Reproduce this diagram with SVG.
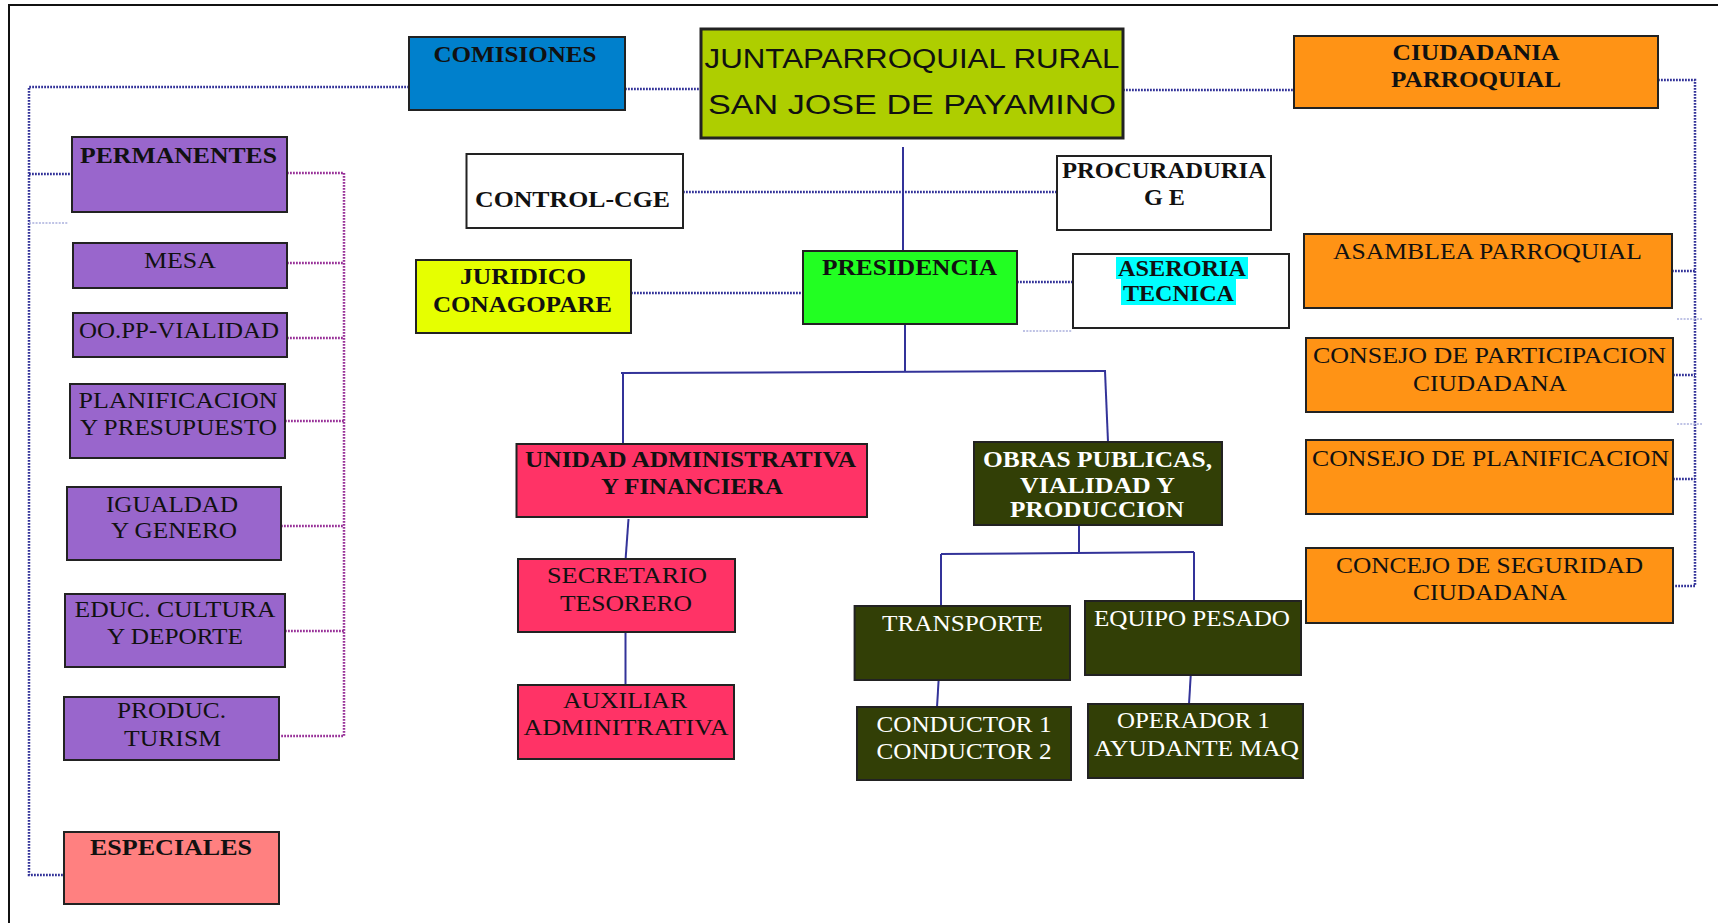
<svg xmlns="http://www.w3.org/2000/svg" width="1718" height="923" viewBox="0 0 1718 923">
<style>
.b{stroke:#222;stroke-width:2}
.blue{fill:#0080CC}.jun{fill:#AECE00}.ora{fill:#FF9315}.pur{fill:#9966CC}.wht{fill:#fff}
.yel{fill:#E6FF00}.grn{fill:#22FF22}.pnk{fill:#FF3366}.olv{fill:#323F06}.sal{fill:#FF8080}
text{font-family:"Liberation Serif","Times New Roman",serif;font-size:23px;fill:#111;text-anchor:middle}
.bd{font-weight:bold}
.wt{fill:#fff}
.sans{font-family:"Liberation Sans",Arial,sans-serif;font-size:27px}
.dn{fill:none;stroke:#333399;stroke-width:2.5;stroke-dasharray:1.8 1.2}
.dp{fill:none;stroke:#993399;stroke-width:2.5;stroke-dasharray:1.8 1.2}
.df{fill:none;stroke:#AAB0DD;stroke-width:1.5;stroke-dasharray:2 1.3}
.sl{fill:none;stroke:#333399;stroke-width:2}
</style>
<rect x="0" y="0" width="1718" height="923" fill="#fff"/>
<path d="M9,923 V5 H1718" fill="none" stroke="#111" stroke-width="2"/>
<g id="connectors">
<path class="dn" d="M409,87 H29 V875 H64"/>
<path class="dn" d="M29,174 H72"/>
<path class="df" d="M29,223 H68"/>
<path class="dn" d="M625,89 H701"/>
<path class="dn" d="M1123,90 H1294"/>
<path class="dn" d="M1658,80 H1695 V586 H1673"/>
<path class="dn" d="M1672,271 H1695 M1673,375 H1695 M1673,479 H1695"/>
<path class="df" d="M1677,319 H1702 M1677,424 H1702"/>
<path class="dn" d="M683,192 H1057"/>
<path class="dn" d="M631,293 H803"/>
<path class="dn" d="M1017,282 H1073"/>
<path class="df" d="M1023,331 H1072"/>
<path class="dp" d="M287,173 H344 V736 H279"/>
<path class="dp" d="M287,263 H344 M287,338 H344 M285,421 H344 M281,526 H344 M285,631 H344"/>
<path class="sl" d="M903,147 V251"/>
<path class="sl" d="M905,324 V372"/>
<path class="sl" d="M621,373 L1106,371"/>
<path class="sl" d="M623,373 V444"/>
<path class="sl" d="M1105,371 L1108,442"/>
<path class="sl" d="M628.5,519 L625.6,559"/>
<path class="sl" d="M625.5,632 V685"/>
<path class="sl" d="M1079,525 V553"/>
<path class="sl" d="M941,554 L1194,552"/>
<path class="sl" d="M941,554 V606"/>
<path class="sl" d="M1194,552 V601"/>
<path class="sl" d="M939,674 L937,707"/>
<path class="sl" d="M1191,671 L1189,704"/>
</g>
<g id="comisiones"><rect class="b blue" x="409" y="37" width="216" height="73"/><text class="bd" x="515" y="62" textLength="163" lengthAdjust="spacingAndGlyphs">COMISIONES</text></g>
<g id="junta"><rect x="701" y="29" width="422" height="109" fill="#AECE00" stroke="#222" stroke-width="3"/>
<text class="sans" x="912" y="68" textLength="415" lengthAdjust="spacingAndGlyphs">JUNTAPARROQUIAL RURAL</text>
<text class="sans" x="912" y="114" textLength="408" lengthAdjust="spacingAndGlyphs">SAN JOSE DE PAYAMINO</text></g>
<g id="ciudadania"><rect class="b ora" x="1294" y="36" width="364" height="72"/>
<text class="bd" x="1476" y="60" textLength="167" lengthAdjust="spacingAndGlyphs">CIUDADANIA</text>
<text class="bd" x="1476" y="87" textLength="170" lengthAdjust="spacingAndGlyphs">PARROQUIAL</text></g>
<g id="permanentes"><rect class="b pur" x="72" y="137" width="215" height="75"/><text class="bd" x="178.5" y="163" textLength="197" lengthAdjust="spacingAndGlyphs">PERMANENTES</text></g>
<g id="control"><rect class="b wht" x="466.5" y="154" width="216.5" height="74"/><text class="bd" x="572.5" y="207" textLength="195" lengthAdjust="spacingAndGlyphs">CONTROL-CGE</text></g>
<g id="procuraduria"><rect class="b wht" x="1057" y="156" width="214" height="74"/>
<text class="bd" x="1164" y="178" textLength="204" lengthAdjust="spacingAndGlyphs">PROCURADURIA</text>
<text class="bd" x="1164.5" y="205" textLength="41" lengthAdjust="spacingAndGlyphs">G E</text></g>
<g id="mesa"><rect class="b pur" x="73" y="243" width="214" height="45"/><text x="180" y="268" textLength="72" lengthAdjust="spacingAndGlyphs">MESA</text></g>
<g id="juridico"><rect class="b yel" x="416" y="260" width="215" height="73"/>
<text class="bd" x="523" y="284" textLength="126" lengthAdjust="spacingAndGlyphs">JURIDICO</text>
<text class="bd" x="522.5" y="312" textLength="179" lengthAdjust="spacingAndGlyphs">CONAGOPARE</text></g>
<g id="presidencia"><rect class="b grn" x="803" y="251" width="214" height="73"/><text class="bd" x="909.5" y="275" textLength="175" lengthAdjust="spacingAndGlyphs">PRESIDENCIA</text></g>
<g id="aseroria"><rect class="b wht" x="1073" y="254" width="216" height="74"/>
<rect x="1116" y="257" width="132" height="22" fill="#00FFFF"/><rect x="1121" y="279" width="115" height="26" fill="#00FFFF"/>
<text class="bd" x="1182" y="276" textLength="128" lengthAdjust="spacingAndGlyphs">ASERORIA</text>
<text class="bd" x="1178.5" y="301" textLength="111" lengthAdjust="spacingAndGlyphs">TECNICA</text></g>
<g id="asamblea"><rect class="b ora" x="1304" y="234" width="368" height="74"/><text x="1487.5" y="259" textLength="309" lengthAdjust="spacingAndGlyphs">ASAMBLEA PARROQUIAL</text></g>
<g id="oopp"><rect class="b pur" x="73" y="313" width="214" height="44"/><text x="179" y="338" textLength="200" lengthAdjust="spacingAndGlyphs">OO.PP-VIALIDAD</text></g>
<g id="consejo-participacion"><rect class="b ora" x="1306" y="338" width="367" height="74"/>
<text x="1489.5" y="363" textLength="353" lengthAdjust="spacingAndGlyphs">CONSEJO DE PARTICIPACION</text>
<text x="1490" y="391" textLength="154" lengthAdjust="spacingAndGlyphs">CIUDADANA</text></g>
<g id="planificacion"><rect class="b pur" x="70" y="384" width="215" height="74"/>
<text x="178" y="408" textLength="199" lengthAdjust="spacingAndGlyphs">PLANIFICACION</text>
<text x="178.5" y="435" textLength="197" lengthAdjust="spacingAndGlyphs">Y PRESUPUESTO</text></g>
<g id="unidad"><rect class="b pnk" x="516.5" y="444" width="350.5" height="73"/>
<text class="bd" x="690.5" y="467" textLength="331" lengthAdjust="spacingAndGlyphs">UNIDAD ADMINISTRATIVA</text>
<text class="bd" x="692" y="494" textLength="182" lengthAdjust="spacingAndGlyphs">Y FINANCIERA</text></g>
<g id="obras"><rect class="b olv" x="974" y="442" width="248" height="83"/>
<text class="bd wt" x="1097.5" y="467" textLength="229" lengthAdjust="spacingAndGlyphs">OBRAS PUBLICAS,</text>
<text class="bd wt" x="1097.5" y="493" textLength="155" lengthAdjust="spacingAndGlyphs">VIALIDAD Y</text>
<text class="bd wt" x="1097" y="517" textLength="174" lengthAdjust="spacingAndGlyphs">PRODUCCION</text></g>
<g id="consejo-planificacion"><rect class="b ora" x="1306" y="440" width="367" height="74"/><text x="1490.5" y="466" textLength="357" lengthAdjust="spacingAndGlyphs">CONSEJO DE PLANIFICACION</text></g>
<g id="igualdad"><rect class="b pur" x="67" y="487" width="214" height="73"/>
<text x="172" y="512" textLength="132" lengthAdjust="spacingAndGlyphs">IGUALDAD</text>
<text x="174" y="538" textLength="126" lengthAdjust="spacingAndGlyphs">Y GENERO</text></g>
<g id="secretario"><rect class="b pnk" x="518" y="559" width="217" height="73"/>
<text x="627" y="583" textLength="160" lengthAdjust="spacingAndGlyphs">SECRETARIO</text>
<text x="626" y="611" textLength="132" lengthAdjust="spacingAndGlyphs">TESORERO</text></g>
<g id="concejo-seguridad"><rect class="b ora" x="1306" y="548" width="367" height="75"/>
<text x="1489.5" y="573" textLength="307" lengthAdjust="spacingAndGlyphs">CONCEJO DE SEGURIDAD</text>
<text x="1490" y="600" textLength="154" lengthAdjust="spacingAndGlyphs">CIUDADANA</text></g>
<g id="educ"><rect class="b pur" x="65" y="594" width="220" height="73"/>
<text x="175" y="617" textLength="201" lengthAdjust="spacingAndGlyphs">EDUC. CULTURA</text>
<text x="175" y="644" textLength="136" lengthAdjust="spacingAndGlyphs">Y DEPORTE</text></g>
<g id="transporte"><rect class="b olv" x="854.6" y="606" width="215.4" height="74"/><text class="wt" x="962.5" y="631" textLength="161" lengthAdjust="spacingAndGlyphs">TRANSPORTE</text></g>
<g id="equipo"><rect class="b olv" x="1085" y="601" width="216" height="74"/><text class="wt" x="1192" y="626" textLength="196" lengthAdjust="spacingAndGlyphs">EQUIPO PESADO</text></g>
<g id="produc"><rect class="b pur" x="64" y="697" width="215" height="63"/>
<text x="171.5" y="718" textLength="109" lengthAdjust="spacingAndGlyphs">PRODUC.</text>
<text x="172.5" y="746" textLength="97" lengthAdjust="spacingAndGlyphs">TURISM</text></g>
<g id="auxiliar"><rect class="b pnk" x="518" y="685" width="216" height="74"/>
<text x="625" y="708" textLength="124" lengthAdjust="spacingAndGlyphs">AUXILIAR</text>
<text x="626" y="735" textLength="205" lengthAdjust="spacingAndGlyphs">ADMINITRATIVA</text></g>
<g id="conductor"><rect class="b olv" x="857" y="707" width="214" height="73"/>
<text class="wt" x="964" y="732" textLength="175" lengthAdjust="spacingAndGlyphs">CONDUCTOR 1</text>
<text class="wt" x="964" y="759" textLength="175" lengthAdjust="spacingAndGlyphs">CONDUCTOR 2</text></g>
<g id="operador"><rect class="b olv" x="1088" y="704" width="215" height="74"/>
<text class="wt" x="1193.5" y="728" textLength="153" lengthAdjust="spacingAndGlyphs">OPERADOR 1</text>
<text class="wt" x="1196.5" y="756" textLength="205" lengthAdjust="spacingAndGlyphs">AYUDANTE MAQ</text></g>
<g id="especiales"><rect class="b sal" x="64" y="832" width="215" height="72"/><text class="bd" x="171" y="855" textLength="162" lengthAdjust="spacingAndGlyphs">ESPECIALES</text></g>
</svg>
